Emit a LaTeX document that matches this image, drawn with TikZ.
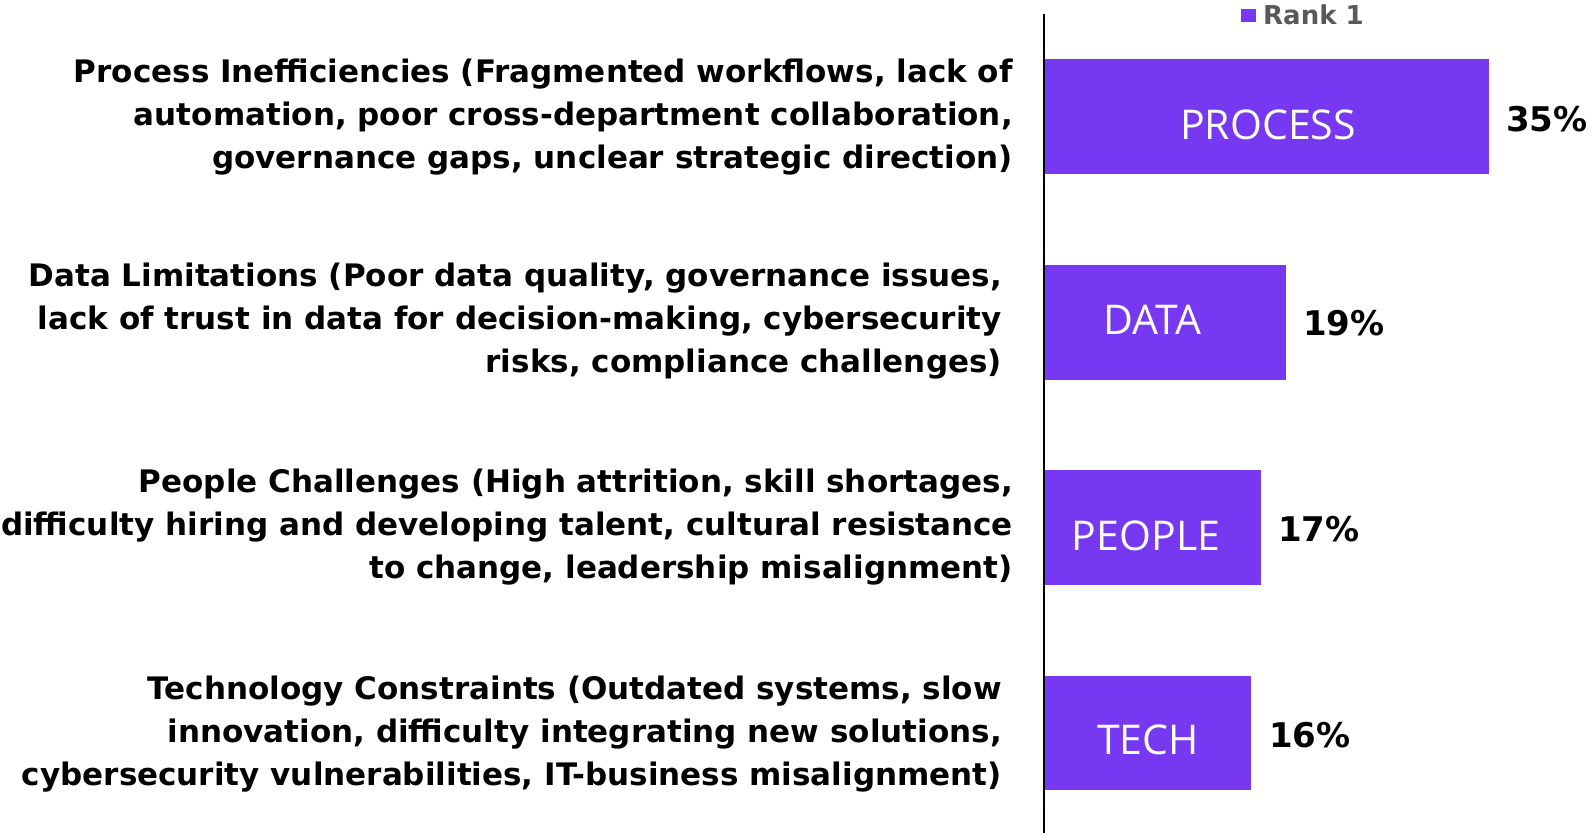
\documentclass[tikz,border=0pt]{standalone}
\usepackage{fontspec}
\setmainfont{DejaVu Sans}
\newfontfamily\barfont{Open Sans}
\definecolor{rankpurple}{HTML}{7639F1}
\definecolor{legendgray}{HTML}{595959}

\begin{document}
\begin{tikzpicture}[x=1pt,y=-1pt,
    catlabel/.style={anchor=east, align=right, inner sep=0pt,
        font=\fontsize{31}{42.7}\selectfont\bfseries},
    barlabel/.style={text=white, inner sep=0pt, font=\fontsize{41}{41}\barfont},
    pctlabel/.style={anchor=west, inner sep=0pt, font=\fontsize{34}{34}\selectfont\bfseries}]
    \useasboundingbox (0,0) rectangle (1593,833);
    % bars
    \fill[rankpurple] (1045,59) rectangle (1489,174);
    \fill[rankpurple] (1045,265) rectangle (1286,380);
    \fill[rankpurple] (1045,470) rectangle (1261,585);
    \fill[rankpurple] (1045,676) rectangle (1251,790);
    \draw[line width=2pt] (1044,14) -- (1044,833);
    % legend
    \fill[rankpurple] (1241,9) rectangle (1256,22);
    \node[anchor=west, inner sep=0pt, text=legendgray,
        font=\fontsize{26}{26}\selectfont\bfseries] (legend) at (1263,15) {Rank 1};
    % category texts
    \node[catlabel] (process) at (1013,117) {Process Inefficiencies (Fragmented workflows, lack of\\automation, poor cross-department collaboration,\\governance gaps, unclear strategic direction)};
    \node[catlabel] (data) at (1002,321) {Data Limitations (Poor data quality, governance issues,\\lack of trust in data for decision-making, cybersecurity\\risks, compliance challenges)};
    \node[catlabel] (people) at (1013,527) {People Challenges (High attrition, skill shortages,\\difficulty hiring and developing talent, cultural resistance\\to change, leadership misalignment)};
    \node[catlabel] (tech) at (1002,734) {Technology Constraints (Outdated systems, slow\\innovation, difficulty integrating new solutions,\\cybersecurity vulnerabilities, IT-business misalignment)};
    % bar texts
    \node[barlabel] (processbar) at (1268,125) {PROCESS};
    \node[barlabel] (databar) at (1152,320) {DATA};
    \node[barlabel] (peoplebar) at (1146,536) {PEOPLE};
    \node[barlabel] (techbar) at (1148,740) {TECH};
    % values
    \node[pctlabel] (processval) at (1506,119) {35\%};
    \node[pctlabel] (dataval) at (1303,323) {19\%};
    \node[pctlabel] (peopleval) at (1278,529) {17\%};
    \node[pctlabel] (techval) at (1269,735) {16\%};
\end{tikzpicture}
\end{document}
